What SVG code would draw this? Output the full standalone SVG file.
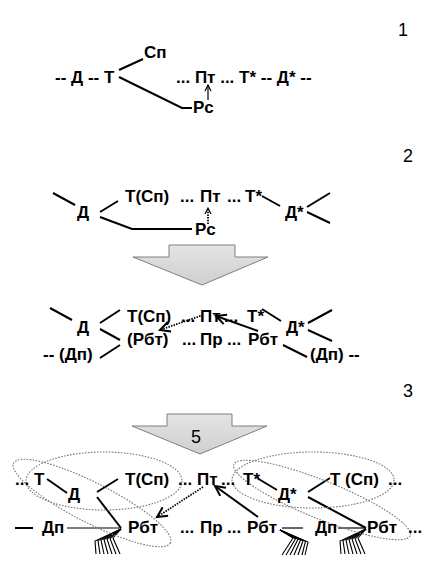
<svg xmlns="http://www.w3.org/2000/svg" width="441" height="568" viewBox="0 0 441 568">
<style>
text{font-family:"Liberation Sans",Arial,sans-serif;font-size:17px;font-weight:bold;fill:#000}
.num{font-weight:normal;font-size:18px}
.ln{stroke:#000;stroke-width:2;fill:none}
.thin{stroke:#000;stroke-width:1.2;fill:none}
.dot{stroke:#000;stroke-width:1.8;fill:none;stroke-dasharray:1.5 1.2}
.ell{stroke:#777;stroke-width:1.1;fill:none;stroke-dasharray:1.6 1.4}
.fan{stroke:#000;stroke-width:1.1;fill:none}
.big{fill:url(#g);stroke:#7f7f7f;stroke-width:1}
</style>
<defs>
<linearGradient id="g" x1="0" y1="0" x2="0" y2="1">
<stop offset="0" stop-color="#e4e4e4"/>
<stop offset="1" stop-color="#cfcfcf"/>
</linearGradient>
<marker id="ah" markerUnits="userSpaceOnUse" markerWidth="14" markerHeight="14" refX="11" refY="6" orient="auto">
<path d="M1,1 L11,6 L1,11" fill="none" stroke="#000" stroke-width="2"/>
</marker>
<marker id="ahs" markerUnits="userSpaceOnUse" markerWidth="10" markerHeight="10" refX="7" refY="4" orient="auto">
<path d="M1,1 L7,4 L1,7" fill="none" stroke="#000" stroke-width="1.2"/>
</marker>
</defs>

<g id="labels">
<text class="num" x="398" y="36">1</text>
<text class="num" x="403" y="162">2</text>
<text class="num" x="403" y="397">3</text>
</g>

<g id="arrows-big">
<polygon id="bigarrow1" class="big" points="169,245 235,245 235,257 268,257 202,285 133,257 169,257"/>
<g id="bigarrow2">
<polygon class="big" points="167,414 232,414 232,426 267,426 200,454 132,426 167,426"/>
<text class="num" x="191" y="443">5</text>
</g>
</g>

<g id="connectors">
<!-- section 1 -->
<path class="ln" d="M119,70 L143,59"/>
<path class="ln" d="M119,77 L182,108 L192,108"/>
<path class="thin" d="M208,100 L208,85" marker-end="url(#ahs)"/>
<!-- section 2 -->
<path class="ln" d="M53,193 L75,205"/>
<path class="ln" d="M100,212 L118,201"/>
<path class="ln" d="M100,217 L132,229 L192,229"/>
<path class="dot" d="M208,224 L208,208" marker-end="url(#ahs)"/>
<path class="ln" d="M262,196 L280,206"/>
<path class="ln" d="M307,207 L330,193"/>
<path class="ln" d="M307,212 L330,223"/>
<!-- section 3a -->
<path class="ln" d="M50,308 L72,320"/>
<path class="ln" d="M100,323 L120,310"/>
<path class="ln" d="M100,329 L120,340"/>
<path class="ln" d="M100,358 L120,345"/>
<path class="ln" d="M262,309 L281,321"/>
<path class="ln" d="M308,323 L332,310"/>
<path class="ln" d="M308,330 L332,341"/>
<path class="ln" d="M283,345 L307,357"/>
<path class="dot" d="M203,315 L160,330" marker-end="url(#ah)"/>
<path class="ln" d="M258,331 L216,316" marker-end="url(#ah)"/>
<!-- section 3b -->
<path class="ln" d="M15,528 L33,528"/>
<path class="ln" d="M47,479 L67,493"/>
<path class="ln" d="M97,492 L118,479"/>
<path class="ln" d="M97,497 L121,528"/>
<path class="thin" d="M67,528 L121,528"/>
<path class="ln" d="M258,517 L215,486" marker-end="url(#ah)"/>
<path class="dot" d="M203,487 L157,517" marker-end="url(#ah)"/>
<path class="ln" d="M257,478 L277,490"/>
<path class="ln" d="M308,492 L330,478"/>
<path class="ln" d="M308,497 L366,528"/>
<path class="thin" d="M282,528 L303,528"/>
<path class="thin" d="M338,528 L366,528"/>
<!-- fans -->
<g id="fan-left">
<path class="fan" d="M121,529 L95,541 L96,554"/>
<path class="fan" d="M121,529 L98,540.5 L100,554"/>
<path class="fan" d="M121,529 L101,540 L104,554"/>
<path class="fan" d="M121,529 L104,539.5 L108,554"/>
<path class="fan" d="M121,529 L107,539 L112,554"/>
<path class="fan" d="M121,529 L110,538.5 L116,554"/>
<path class="fan" d="M121,529 L113,538 L120,554"/>
</g>
<g id="fan-mid">
<path class="fan" d="M280,530 L293,538 L282,555"/>
<path class="fan" d="M280,530 L295.5,538.7 L286,555"/>
<path class="fan" d="M280,530 L298,539.3 L290,555"/>
<path class="fan" d="M280,530 L300.5,540 L294,555"/>
<path class="fan" d="M280,530 L303,540.7 L298,555"/>
<path class="fan" d="M280,530 L305.5,541.3 L302,555"/>
<path class="fan" d="M280,530 L308,542 L305,555"/>
</g>
<g id="fan-right">
<path class="fan" d="M366,529 L340,541 L341,554"/>
<path class="fan" d="M366,529 L343,540.5 L345,554"/>
<path class="fan" d="M366,529 L346,540 L349,554"/>
<path class="fan" d="M366,529 L349,539.5 L353,554"/>
<path class="fan" d="M366,529 L352,539 L357,554"/>
<path class="fan" d="M366,529 L355,538.5 L361,554"/>
<path class="fan" d="M366,529 L358,538 L365,554"/>
</g>
<!-- ellipses -->
<ellipse class="ell" cx="104" cy="481" rx="78" ry="29"/>
<ellipse class="ell" cx="92" cy="503" rx="88" ry="20" transform="rotate(27 92 503)"/>
<ellipse class="ell" cx="313" cy="480" rx="81" ry="28"/>
<ellipse class="ell" cx="322" cy="500" rx="95" ry="19" transform="rotate(22 322 500)"/>
</g>

<g id="s1">
<text id="n1a" x="55" y="83">-- Д -- Т</text>
<text id="n1b" x="144" y="58">Сп</text>
<text id="n1c" x="176" y="83">... Пт ... Т* -- Д* --</text>
<text id="n1d" x="193" y="113">Рс</text>
</g>
<g id="s2">
<text id="n2a" x="125" y="202">Т(Сп)</text>
<text x="180" y="202">...</text>
<text x="200" y="202">Пт</text>
<text x="227" y="202">...</text>
<text x="245" y="202">Т*</text>
<text id="n2b" x="77" y="218">Д</text>
<text id="n2c" x="285" y="218">Д*</text>
<text id="n2d" x="195" y="235">Рс</text>
</g>
<g id="s3a">
<text id="n3a" x="127" y="322">Т(Сп)</text>
<text x="181" y="322">...</text>
<text x="200" y="322">Пт</text>
<text x="224" y="322">...</text>
<text x="247" y="322">Т*</text>
<text id="n3b" x="77" y="333">Д</text>
<text id="n3c" x="286" y="333">Д*</text>
<text id="n3d" x="127" y="345">(Рбт)</text>
<text x="182" y="345">...</text>
<text x="200" y="345">Пр</text>
<text x="227" y="345">...</text>
<text x="248" y="345">Рбт</text>
<text id="n3e" x="43" y="360">-- (Дп)</text>
<text id="n3f" x="310" y="360">(Дп) --</text>
</g>
<g id="s3b">
<text id="n4a" x="15" y="485">... Т</text>
<text id="n4b" x="125" y="485">Т(Сп)</text>
<text x="178" y="485">...</text>
<text x="197" y="485">Пт</text>
<text x="221" y="485">...</text>
<text id="n4d" x="243" y="485">Т*</text>
<text id="n4e" x="330" y="485">Т (Сп)</text>
<text id="n4f" x="388" y="485">...</text>
<text id="n4g" x="68" y="500">Д</text>
<text id="n4h" x="278" y="500">Д*</text>
<text id="n4i" x="42" y="533">Дп</text>
<text id="n4j" x="128" y="533">Рбт</text>
<text x="180" y="533">...</text>
<text x="200" y="533">Пр</text>
<text x="227" y="533">...</text>
<text x="247" y="533">Рбт</text>
<text id="n4l" x="315" y="533">Дп</text>
<text id="n4m" x="367" y="533">Рбт</text>
<text id="n4n" x="408" y="533">...</text>
</g>
</svg>
